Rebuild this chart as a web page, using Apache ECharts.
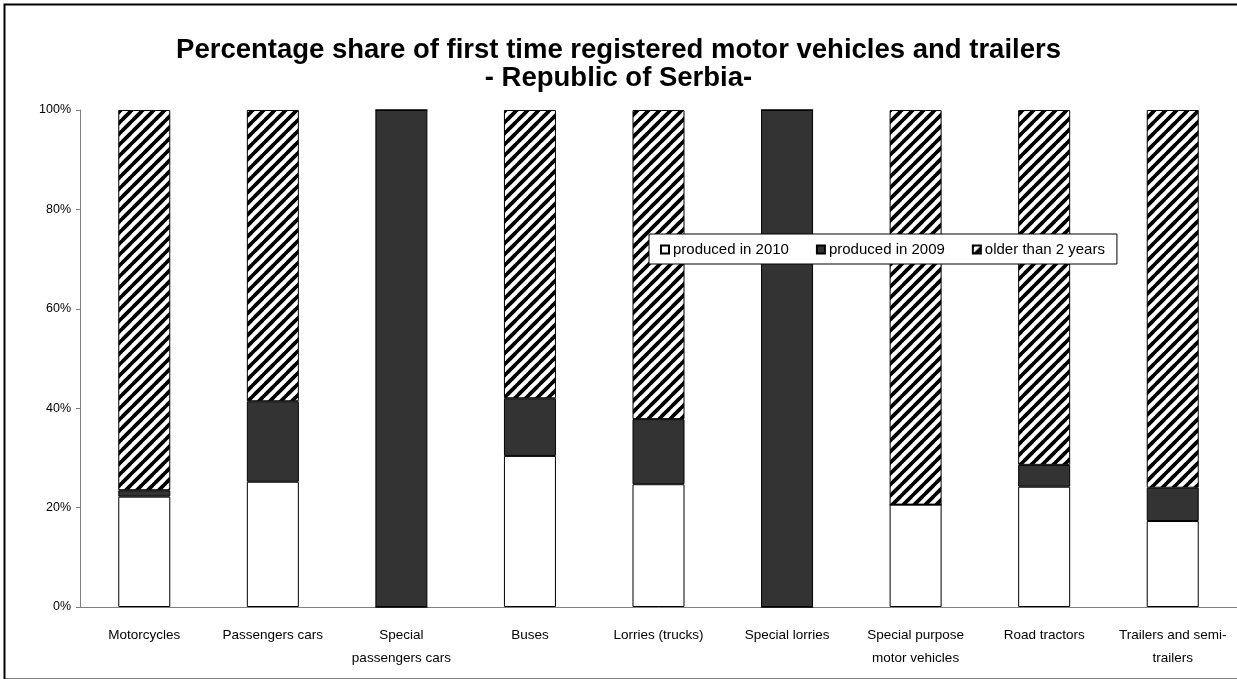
<!DOCTYPE html>
<html>
<head>
<meta charset="utf-8">
<title>First time registered motor vehicles and trailers</title>
<script src="https://cdn.jsdelivr.net/npm/echarts@6/dist/echarts.min.js"></script>
<style>
  html, body { margin: 0; padding: 0; background: #fff; }
  #chart { width: 1237px; height: 679px; }
</style>
</head>
<body>
<div id="chart"></div>
<script>
// categories and values (percent)
const categories = [
  'Motorcycles',
  'Passengers cars',
  'Special\npassengers cars',
  'Buses',
  'Lorries (trucks)',
  'Special lorries',
  'Special purpose\nmotor vehicles',
  'Road tractors',
  'Trailers and semi-\ntrailers'
]
const produced2010 = [22.2, 25.2, 0, 30.4, 24.7, 0, 20.6, 24.2, 17.3]
const produced2009 = [1.3, 16.2, 100, 11.6, 13.1, 100, 0, 4.4, 6.7]
const olderThan2 = [76.5, 58.6, 0, 58.0, 62.2, 0, 79.4, 71.4, 76.0]
const yTicks = [0, 20, 40, 60, 80, 100]

// diagonal hatch fill
function hatch() {
  const s = 11
  const c = document.createElement('canvas')
  c.width = s
  c.height = s
  const ctx = c.getContext('2d')
  ctx.fillStyle = '#fff'
  ctx.fillRect(0, 0, s, s)
  ctx.strokeStyle = '#000'
  ctx.lineWidth = 3.8
  ctx.beginPath()
  ctx.moveTo(-1, s + 1); ctx.lineTo(s + 1, -1)
  ctx.moveTo(-1, 1); ctx.lineTo(1, -1)
  ctx.moveTo(s - 1, s + 1); ctx.lineTo(s + 1, s - 1)
  ctx.stroke()
  return c
}

const chart = echarts.init(document.getElementById('chart'))
const font = 'Liberation Sans, Arial, sans-serif'

chart.setOption({
  animation: false,
  backgroundColor: '#fff',
  textStyle: { fontFamily: font, color: '#000' },
  title: {
    text: 'Percentage share of first time registered motor vehicles and trailers\n- Republic of Serbia-',
    left: 'center',
    top: 31,
    textStyle: { fontFamily: font, fontSize: 27.5, fontWeight: 'bold', color: '#000', lineHeight: 28 }
  },
  graphic: [{
    type: 'rect',
    left: 2, top: 2,
    shape: { width: 1250, height: 675 },
    style: { fill: 'none', stroke: '#000', lineWidth: 2 },
    silent: true
  }],
  legend: {
    left: 649,
    top: 234,
    padding: [8, 12, 7, 11],
    itemGap: 27,
    itemWidth: 8,
    itemHeight: 8,
    icon: 'rect',
    borderColor: '#000',
    borderWidth: 1,
    backgroundColor: '#fff',
    textStyle: { fontFamily: font, fontSize: 15, color: '#000', padding: [0, 0, 0, -1] }
  },
  grid: { left: 80, right: -7, top: 110, bottom: 72 },
  xAxis: {
    type: 'category',
    data: categories,
    axisLine: { lineStyle: { color: '#808080' } },
    axisTick: { length: 5, lineStyle: { color: '#808080' } },
    axisLabel: {
      interval: 0,
      margin: 17,
      fontSize: 13.5,
      lineHeight: 23,
      color: '#000',
      fontFamily: font,
      verticalAlign: 'top'
    }
  },
  yAxis: {
    type: 'value',
    min: yTicks[0],
    max: yTicks[yTicks.length - 1],
    interval: 20,
    axisLine: { show: true, lineStyle: { color: '#808080' } },
    axisTick: { show: true, length: 4, lineStyle: { color: '#808080' } },
    splitLine: { show: false },
    axisLabel: { formatter: '{value}%', fontSize: 12.5, color: '#000', fontFamily: font, margin: 9 }
  },
  series: [
    {
      name: 'produced in 2010',
      type: 'bar',
      stack: 'total',
      barWidth: 52,
      data: produced2010,
      itemStyle: { color: '#fff', borderColor: '#000', borderWidth: 1 }
    },
    {
      name: 'produced in 2009',
      type: 'bar',
      stack: 'total',
      data: produced2009,
      itemStyle: { color: '#333333', borderColor: '#000', borderWidth: 1 }
    },
    {
      name: 'older than 2 years',
      type: 'bar',
      stack: 'total',
      data: olderThan2,
      itemStyle: { color: { image: hatch(), repeat: 'repeat' }, borderColor: '#000', borderWidth: 1 }
    }
  ]
})
</script>
</body>
</html>
